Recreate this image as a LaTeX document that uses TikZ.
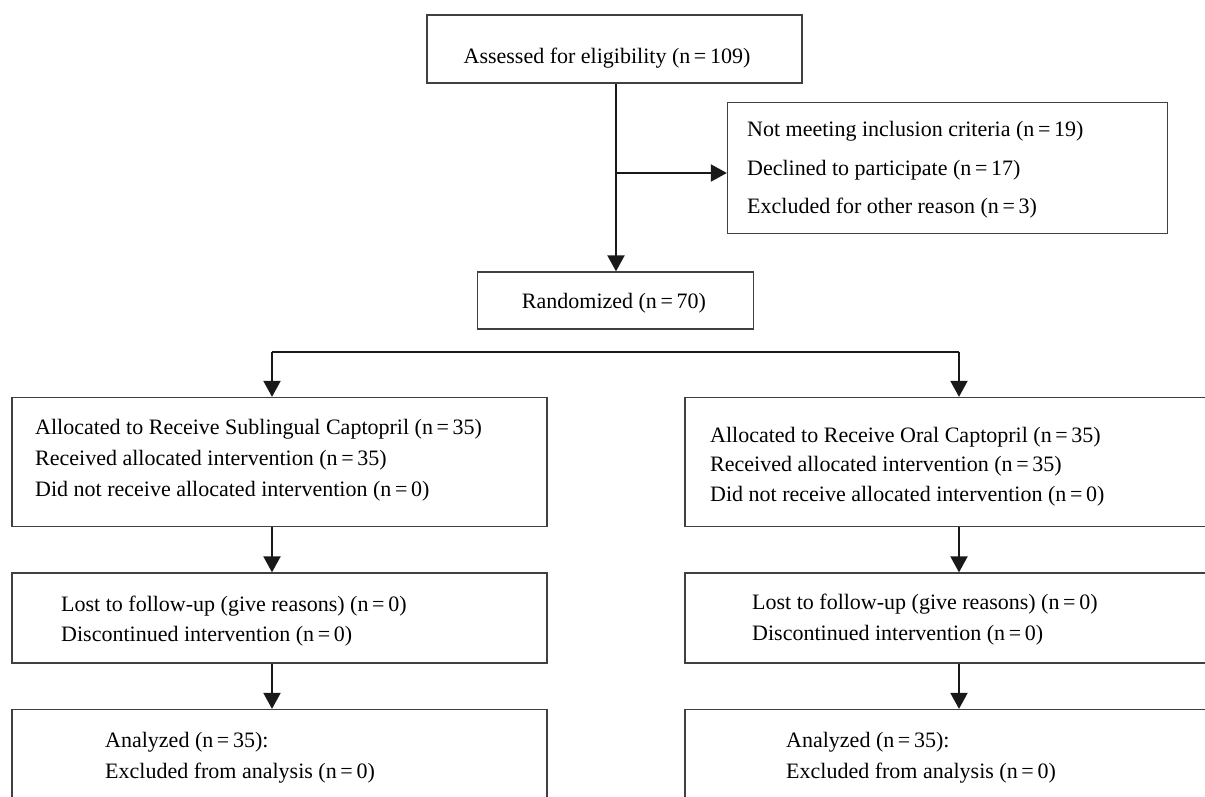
\documentclass[tikz,border=0pt]{standalone}
\usepackage{fontspec}
\setmainfont{Liberation Serif}
\usetikzlibrary{arrows.meta}
\begin{document}
\begin{tikzpicture}[x=1pt,y=-1pt,
 box/.style={draw=black!75, line width=1.3pt, rectangle, inner sep=0pt},
 txt/.style={anchor=west, inner sep=0pt, font=\fontsize{22}{26}\selectfont},
 ctxt/.style={inner sep=0pt, font=\fontsize{22}{26}\selectfont},
 arr/.style={line width=2pt, draw=black!90, -{Triangle[length=16pt,width=17pt]}},
 ln/.style={line width=2pt, draw=black!90}]
\useasboundingbox (0,0) rectangle (1205,796);
\clip (0,0) rectangle (1205,796);

% boxes
\node[box, minimum width=375pt, minimum height=68pt] (assess) at (614.5,49) {};
\node[box, minimum width=440pt, minimum height=131pt] (excl) at (947.5,168) {};
\node[box, minimum width=276pt, minimum height=57pt] (rand) at (615.5,300.5) {};
\node[box, minimum width=535pt, minimum height=129pt] (Lalloc) at (279.5,462) {};
\node[box, minimum width=555pt, minimum height=129pt] (Ralloc) at (962.5,462) {};
\node[box, minimum width=535pt, minimum height=90pt] (Llost) at (279.5,618) {};
\node[box, minimum width=555pt, minimum height=90pt] (Rlost) at (962.5,618) {};
\node[box, minimum width=535pt, minimum height=131pt] (Lana) at (279.5,775) {};
\node[box, minimum width=555pt, minimum height=131pt] (Rana) at (962.5,775) {};

% texts
\node[ctxt] (tassess) at (607,58) {Assessed for eligibility (n\,=\,109)};
\node[txt] (te1) at (747,131) {Not meeting inclusion criteria (n\,=\,19)};
\node[txt] (te2) at (747,170) {Declined to participate (n\,=\,17)};
\node[txt] (te3) at (747,208) {Excluded for other reason (n\,=\,3)};
\node[ctxt] (trand) at (614,303) {Randomized (n\,=\,70)};

\node[txt] (tla1) at (35,429) {Allocated to Receive Sublingual Captopril (n\,=\,35)};
\node[txt] (tla2) at (35,460) {Received allocated intervention (n\,=\,35)};
\node[txt] (tla3) at (35,491) {Did not receive allocated intervention (n\,=\,0)};
\node[txt] (tra1) at (710,437) {Allocated to Receive Oral Captopril (n\,=\,35)};
\node[txt] (tra2) at (710,466) {Received allocated intervention (n\,=\,35)};
\node[txt] (tra3) at (710,496) {Did not receive allocated intervention (n\,=\,0)};

\node[txt] (tll1) at (61,606) {Lost to follow-up (give reasons) (n\,=\,0)};
\node[txt] (tll2) at (61,636) {Discontinued intervention (n\,=\,0)};
\node[txt] (trl1) at (752,604) {Lost to follow-up (give reasons) (n\,=\,0)};
\node[txt] (trl2) at (752,635) {Discontinued intervention (n\,=\,0)};

\node[txt] (tln1) at (105,742) {Analyzed (n\,=\,35):};
\node[txt] (tln2) at (105,773) {Excluded from analysis (n\,=\,0)};
\node[txt] (trn1) at (786,742) {Analyzed (n\,=\,35):};
\node[txt] (trn2) at (786,773) {Excluded from analysis (n\,=\,0)};

% connectors
\coordinate (trunk) at (616,0);
\coordinate (branch) at (616,173);
\coordinate (sL) at (272,352);
\coordinate (sR) at (959,352);
\draw[arr] (assess.south -| trunk) -- (rand.north -| trunk);
\draw[arr] (branch) -- (branch -| excl.west);
\draw[ln] (sL) -- (sR);
\draw[arr] (sL) -- (sL |- Lalloc.north);
\draw[arr] (sR) -- (sR |- Ralloc.north);
\draw[arr] (Lalloc.south -| sL) -- (Llost.north -| sL);
\draw[arr] (Llost.south -| sL) -- (Lana.north -| sL);
\draw[arr] (Ralloc.south -| sR) -- (Rlost.north -| sR);
\draw[arr] (Rlost.south -| sR) -- (Rana.north -| sR);
\end{tikzpicture}
\end{document}
